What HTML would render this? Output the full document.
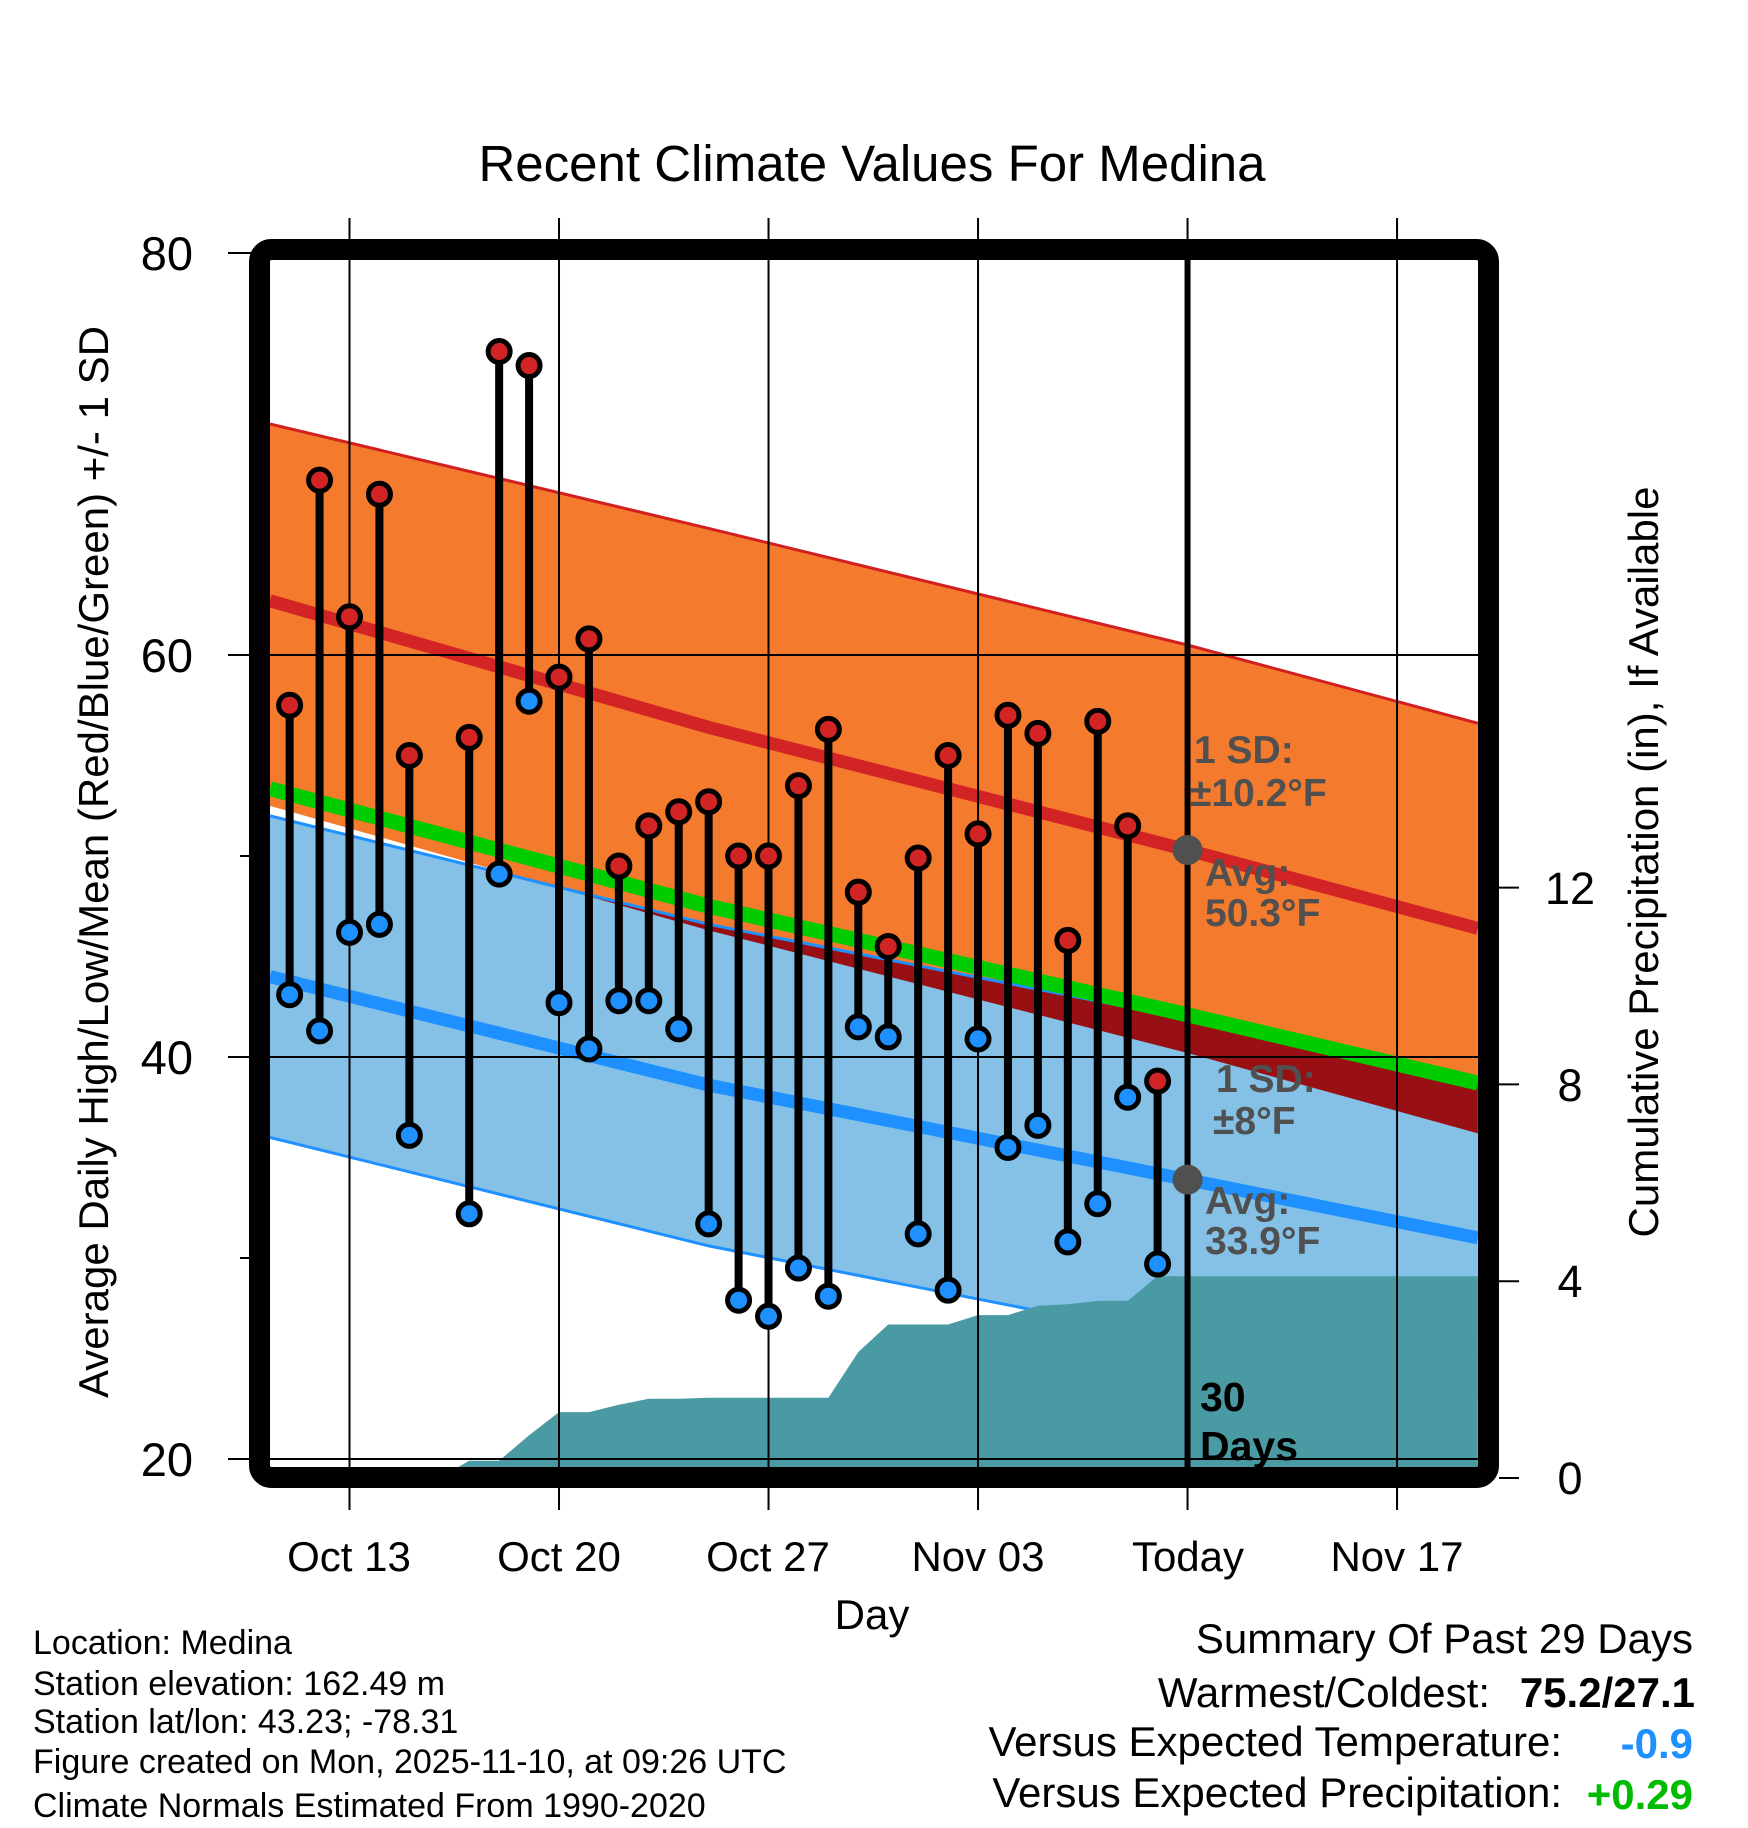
<!DOCTYPE html>
<html><head><meta charset="utf-8"><style>
html,body{margin:0;padding:0;background:#fff;}
svg{display:block;font-family:"Liberation Sans",Arial,sans-serif;}
</style></head><body>
<svg id="chart" width="1748" height="1828" viewBox="0 0 1748 1828" xmlns="http://www.w3.org/2000/svg">
<rect width="1748" height="1828" fill="#fff"/>
<defs><clipPath id="plotclip"><rect x="270" y="260" width="1208" height="1208"/></clipPath>
<clipPath id="orangeclip"><path id="orangeClipPath" d=""/></clipPath></defs>
<g id="fills" clip-path="url(#plotclip)"></g>
<g id="grid"></g>
<g id="marks"></g>
<text x="872" y="181" font-size="51" text-anchor="middle">Recent Climate Values For Medina</text>
<g font-size="47" text-anchor="end">
<text x="193" y="270">80</text>
<text x="193" y="672">60</text>
<text x="193" y="1074">40</text>
<text x="193" y="1476">20</text>
</g>
<g font-size="45" text-anchor="middle">
<text x="1570" y="904">12</text>
<text x="1570" y="1101">8</text>
<text x="1570" y="1297">4</text>
<text x="1570" y="1494">0</text>
</g>
<g font-size="42" text-anchor="middle">
<text x="349" y="1571">Oct 13</text>
<text x="559" y="1571">Oct 20</text>
<text x="768" y="1571">Oct 27</text>
<text x="978" y="1571">Nov 03</text>
<text x="1188" y="1571">Today</text>
<text x="1397" y="1571">Nov 17</text>
</g>
<text x="872" y="1629" font-size="42" text-anchor="middle">Day</text>
<text transform="translate(108,862) rotate(-90)" font-size="42" text-anchor="middle">Average Daily High/Low/Mean (Red/Blue/Green) +/- 1 SD</text>
<text transform="translate(1658,862) rotate(-90)" font-size="42" text-anchor="middle">Cumulative Precipitation (in), If Available</text>
<g font-size="39" font-weight="bold" fill="#505050">
<text x="1194" y="763">1 SD:</text>
<text x="1190" y="806">±10.2°F</text>
<text x="1205" y="886">Avg:</text>
<text x="1205" y="926">50.3°F</text>
<text x="1216" y="1092">1 SD:</text>
<text x="1213" y="1134">±8°F</text>
<text x="1205" y="1214">Avg:</text>
<text x="1205" y="1254">33.9°F</text>
</g>
<g font-size="41" font-weight="bold" fill="#000">
<text x="1200" y="1411">30</text>
<text x="1200" y="1460">Days</text>
</g>
<g font-size="34" fill="#000">
<text x="33" y="1654">Location: Medina</text>
<text x="33" y="1695">Station elevation: 162.49 m</text>
<text x="33" y="1733">Station lat/lon: 43.23; -78.31</text>
<text x="33" y="1773">Figure created on Mon, 2025-11-10, at 09:26 UTC</text>
<text x="33" y="1817">Climate Normals Estimated From 1990-2020</text>
</g>
<g font-size="42" text-anchor="end">
<text x="1693" y="1653">Summary Of Past 29 Days</text>
<text x="1490" y="1707">Warmest/Coldest:</text>
<text x="1695" y="1707" font-weight="bold">75.2/27.1</text>
<text x="1562" y="1756">Versus Expected Temperature:</text>
<text x="1693" y="1758" font-weight="bold" fill="#1e90ff">-0.9</text>
<text x="1562" y="1807">Versus Expected Precipitation:</text>
<text x="1693" y="1809" font-weight="bold" fill="#00bb00">+0.29</text>
</g>
</svg>
<script>
// data
const obsDays = [-2,-1,0,1,2,4,5,6,7,8,9,10,11,12,13,14,15,16,17,18,19,20,21,22,23,24,25,26,27];
const highs = [57.5,68.7,61.9,68.0,55.0,55.9,75.1,74.4,58.9,60.8,49.5,51.5,52.2,52.7,50.0,50.0,53.5,56.3,48.2,45.5,49.9,55.0,51.1,57.0,56.1,45.8,56.7,51.5,38.8];
const lows = [43.1,41.3,46.2,46.6,36.1,32.2,49.1,57.7,42.7,40.4,42.8,42.8,41.4,31.7,27.9,27.1,29.5,28.1,41.5,41.0,31.2,28.4,40.9,35.5,36.6,30.8,32.7,38.0,29.7];
const normDays = [-2.66,12,28,37.7];
const highUpper = [71.5,66.3,60.5,56.6];
const highMean = [62.7,56.4,50.3,46.4];
const highLower = [52.5,46.3,40.2,36.2];
const lowMean = [44.0,38.6,33.9,31.0];
const lowSD = 8;
const precipDays = [-2.66,3,4,5,6,7,8,9,10,11,12,13,14,15,16,17,18,19,20,21,22,23,24,25,26,27,37.7];
const precip = [0,0,0.35,0.35,0.87,1.34,1.34,1.49,1.61,1.61,1.63,1.63,1.63,1.63,1.63,2.56,3.12,3.12,3.12,3.31,3.31,3.5,3.53,3.6,3.6,4.1,4.1];
const todayDay = 28;
const gridDays = [0,7,14,21,28,35];

const X = d => 349.5 + d*29.93;
const Y = t => 253 + (80-t)*20.1;
const Y2 = p => 1478 - p*49.2;
const NS = 'http://www.w3.org/2000/svg';
function mk(tag, attrs, parent){const e=document.createElementNS(NS,tag);for(const k in attrs)e.setAttribute(k,attrs[k]);parent.appendChild(e);return e;}
function pts(days, vals, fy){return days.map((d,i)=>X(d).toFixed(1)+','+fy(vals[i]).toFixed(1));}
function band(upper, lower){return 'M'+pts(normDays,upper,Y).join('L')+'L'+pts(normDays,lower,Y).reverse().join('L')+'Z';}
const fills=document.getElementById('fills');
const blueTop=lowMean.map(v=>v+lowSD), blueBot=lowMean.map(v=>v-lowSD);
const meanMid=highMean.map((v,i)=>(v+lowMean[i])/2);

let e;
e=mk('path',{d:band(highUpper,highLower),fill:'#f47a2e'},fills);


e=mk('path',{d:band(blueTop,blueBot),fill:'#85c1e6'},fills);


document.getElementById('orangeClipPath').setAttribute('d',band(highUpper,highLower));
e=mk('path',{d:band(blueTop,blueBot),fill:'#981014','clip-path':'url(#orangeclip)'},fills);


e=mk('polyline',{points:pts(normDays,highUpper,Y).join(' '),fill:'none',stroke:'#d22020','stroke-width':3},fills);


e=mk('polyline',{points:pts(normDays,blueTop,Y).join(' '),fill:'none',stroke:'#1e90ff','stroke-width':3},fills);


e=mk('polyline',{points:pts(normDays,blueBot,Y).join(' '),fill:'none',stroke:'#1e90ff','stroke-width':3},fills);


e=mk('polyline',{points:pts(normDays,meanMid,Y).join(' '),fill:'none',stroke:'#00cc00','stroke-width':15},fills);


e=mk('polyline',{points:pts(normDays,highMean,Y).join(' '),fill:'none',stroke:'#d22424','stroke-width':13},fills);


e=mk('polyline',{points:pts(normDays,lowMean,Y).join(' '),fill:'none',stroke:'#1e90ff','stroke-width':13},fills);


e=mk('path',{d:'M'+pts(precipDays,precip,Y2).join('L')+'L'+X(37.7)+',1478L'+X(-2.66)+',1478Z',fill:'#4a9aa3'},fills);



const grid=document.getElementById('grid');
gridDays.forEach(d=>{
  const l=mk('line',{x1:X(d),x2:X(d),y1:218,y2:1510,stroke:'#000','stroke-width':2},grid);
  
  
});
[20,40,60,80].forEach(t=>{
  const l=mk('line',{x1:228,x2:1478,y1:Y(t),y2:Y(t),stroke:'#000','stroke-width':2},grid);
  
  
});
[30,50].forEach(t=>{
  const l=mk('line',{x1:240,x2:250,y1:Y(t),y2:Y(t),stroke:'#000','stroke-width':2},grid);
  
  
});
[0,4,8,12].forEach(p=>{
  const l=mk('line',{x1:1499,x2:1519,y1:Y2(p),y2:Y2(p),stroke:'#000','stroke-width':2},grid);
  
  
});
e=mk('line',{x1:X(todayDay),x2:X(todayDay),y1:260,y2:1468,stroke:'#000','stroke-width':6},grid);


e=mk('rect',{x:259.5,y:249.5,width:1229,height:1228,rx:12,fill:'none',stroke:'#000','stroke-width':21},grid);



const marks=document.getElementById('marks');
obsDays.forEach((d,i)=>{
  const s=mk('line',{x1:X(d),x2:X(d),y1:Y(highs[i]),y2:Y(lows[i]),stroke:'#000','stroke-width':8},marks);
  
  
});
obsDays.forEach((d,i)=>{
  const h=mk('circle',{cx:X(d),cy:Y(highs[i]),r:11,fill:'#d22424',stroke:'#000','stroke-width':5},marks);
  
  
  const l=mk('circle',{cx:X(d),cy:Y(lows[i]),r:11,fill:'#1e90ff',stroke:'#000','stroke-width':5},marks);
  
  
});
e=mk('circle',{cx:X(todayDay),cy:Y(highMean[2]),r:15,fill:'#505050'},marks);


e=mk('circle',{cx:X(todayDay),cy:Y(lowMean[2]),r:15,fill:'#505050'},marks);


</script>
</body></html>
